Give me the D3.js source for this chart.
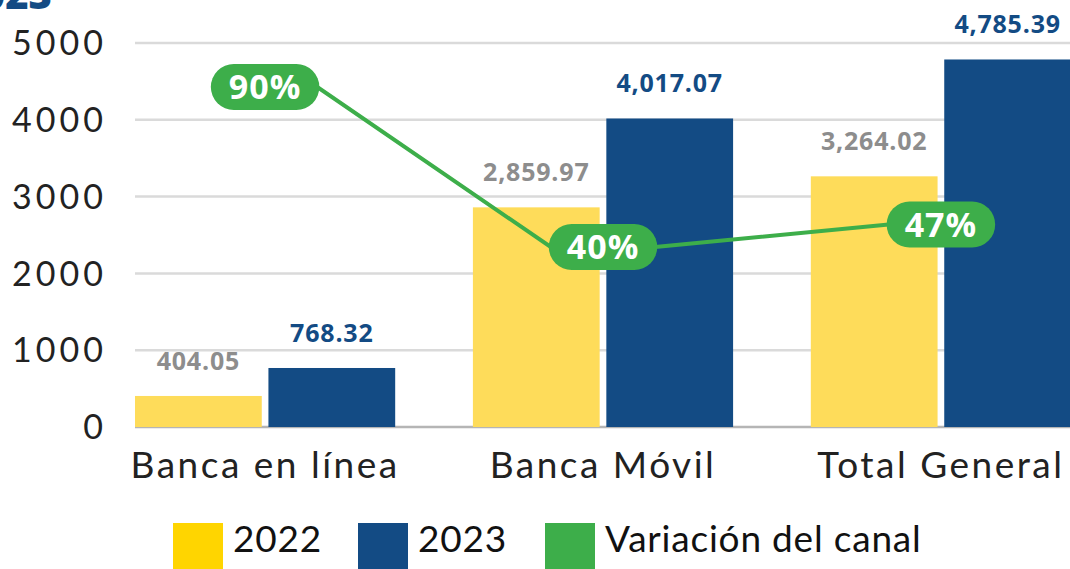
<!DOCTYPE html>
<html>
<head>
<meta charset="utf-8">
<script src="https://cdn.jsdelivr.net/npm/d3@7"></script>
<style>
  body { margin: 0; background: #fff; }
  svg { display: block; }
  .tick-label { font-family: 'Lato', sans-serif; fill: #222; }
  .cat-label { font-family: 'Lato', sans-serif; fill: #222; }
  .val-label { font-family: 'Open Sans', sans-serif; font-weight: 700; }
  .pct-label { font-family: 'Open Sans', sans-serif; font-weight: 700; fill: #fff; }
  .legend-text { font-family: 'Lato', sans-serif; fill: #111; }
</style>
</head>
<body>
<div id="chart"></div>
<script>
// data
const categories = ['Banca en línea', 'Banca Móvil', 'Total General'];
const values2022 = [404.05, 2859.97, 3264.02];
const values2023 = [768.32, 4017.07, 4785.39];
const variacion = [90, 40, 47];
const yTicks = [0, 1000, 2000, 3000, 4000, 5000];
const series = ['2022', '2023'];
const legendLabels = ['2022', '2023', 'Variación del canal'];

const width = 1070;
const height = 569;

const colors = {
  y2022: '#FEDC5A',
  y2023: '#134B84',
  green: '#3DAE4A',
  legend2022: '#FFD500',
};

const svg = d3
  .select('#chart')
  .append('svg')
  .attr('width', width)
  .attr('height', height);

// scales
const x = d3.scaleBand().domain(categories).range([135, 1071]).paddingInner(0.23).paddingOuter(0);
const xSub = d3.scaleBand().domain(series).range([0, x.bandwidth()]).paddingInner(0.05);
const y = d3.scaleLinear().domain([0, 5000]).range([427, 43]);
const yPct = d3.scaleLinear().domain([0, 100]).range([375, 55]);

// cut-off title at the top
svg.append('text')
  .attr('x', 52)
  .attr('y', 9)
  .attr('text-anchor', 'end')
  .style('font-family', "'Open Sans', sans-serif")
  .style('font-weight', 800)
  .style('font-size', '40px')
  .style('fill', colors.y2023)
  .text('2023');

// grid
const grid = svg.append('g').attr('id', 'grid');
grid.selectAll('line')
  .data(yTicks)
  .enter()
  .append('line')
  .attr('x1', 135)
  .attr('x2', width)
  .attr('y1', (d) => y(d))
  .attr('y2', (d) => y(d))
  .attr('stroke', (d) => (d === 0 ? '#b5b5b5' : '#dadada'))
  .attr('stroke-width', 2.5);

grid.selectAll('text')
  .data(yTicks)
  .enter()
  .append('text')
  .attr('class', 'tick-label')
  .attr('x', 107)
  .attr('y', (d) => y(d))
  .attr('dy', '0.36em')
  .attr('text-anchor', 'end')
  .style('font-size', '34px')
  .style('letter-spacing', '4px')
  .text((d) => d);

// bars
const groups = svg.append('g').attr('id', 'bars')
  .selectAll('g')
  .data(categories)
  .enter()
  .append('g')
  .attr('transform', (d) => `translate(${x(d)},0)`);

const barData = (d, i) => [
  { s: '2022', v: values2022[i], c: colors.y2022, lc: '#8d8d8d' },
  { s: '2023', v: values2023[i], c: colors.y2023, lc: colors.y2023 },
];

groups.each(function (d, i) {
  const g = d3.select(this);
  const bars = barData(d, i);
  g.selectAll('rect')
    .data(bars)
    .enter()
    .append('rect')
    .attr('x', (b) => xSub(b.s))
    .attr('width', xSub.bandwidth())
    .attr('y', (b) => y(b.v))
    .attr('height', (b) => y(0) - y(b.v))
    .attr('fill', (b) => b.c);

  g.selectAll('text')
    .data(bars)
    .enter()
    .append('text')
    .attr('class', 'val-label')
    .attr('x', (b) => xSub(b.s) + xSub.bandwidth() / 2)
    .attr('y', (b) => y(b.v) - 26)
    .attr('text-anchor', 'middle')
    .style('font-size', '25px')
    .style('letter-spacing', '0.8px')
    .style('fill', (b) => b.lc)
    .text((b) => d3.format(b.v >= 1000 ? ',.2f' : '.2f')(b.v));
});

// category labels
svg.append('g').attr('id', 'cats')
  .selectAll('text')
  .data(categories)
  .enter()
  .append('text')
  .attr('class', 'cat-label')
  .attr('x', (d) => x(d) + x.bandwidth() / 2)
  .attr('y', 478)
  .attr('text-anchor', 'middle')
  .style('font-size', '37px')
  .style('letter-spacing', '2.5px')
  .text((d) => d);

// variation line + pills
const lineG = svg.append('g').attr('id', 'variation');
const path = lineG.append('path')
  .attr('fill', 'none')
  .attr('stroke', colors.green)
  .attr('stroke-width', 4);

const pills = lineG.selectAll('g')
  .data(variacion)
  .enter()
  .append('g')
  .attr('transform', (d, i) => `translate(${x(categories[i]) + x.bandwidth() / 2},${yPct(d)})`);

pills.append('rect').attr('fill', colors.green);
pills.append('text')
  .attr('class', 'pct-label')
  .attr('text-anchor', 'middle')
  .attr('dy', '0.36em')
  .style('font-size', '34px')
  .style('letter-spacing', '1px')
  .text((d) => `${d}%`);

const edges = [];
pills.each(function (d, i) {
  const bb = d3.select(this).select('text').node().getBBox();
  const w = bb.width + 36;
  const h = 46;
  d3.select(this).select('rect')
    .attr('x', -w / 2)
    .attr('y', -h / 2)
    .attr('width', w)
    .attr('height', h)
    .attr('rx', h / 2);
  const cx = x(categories[i]) + x.bandwidth() / 2;
  edges.push([cx - w / 2 + 2, yPct(d)], [cx + w / 2 - 2, yPct(d)]);
});
path.attr('d', d3.line()(edges));

// legend
const legendColors = [colors.legend2022, colors.y2023, colors.green];
const legendX = [173, 358, 545];
const legend = svg.append('g').attr('id', 'legend')
  .selectAll('g')
  .data(legendLabels)
  .enter()
  .append('g')
  .attr('transform', (d, i) => `translate(${legendX[i]},523)`);

legend.append('rect')
  .attr('width', 50)
  .attr('height', 46)
  .attr('fill', (d, i) => legendColors[i]);

legend.append('text')
  .attr('class', 'legend-text')
  .attr('x', 60)
  .attr('y', 29)
  .style('font-size', '37px')
  .style('letter-spacing', '0.8px')
  .text((d) => d);
</script>
</body>
</html>
